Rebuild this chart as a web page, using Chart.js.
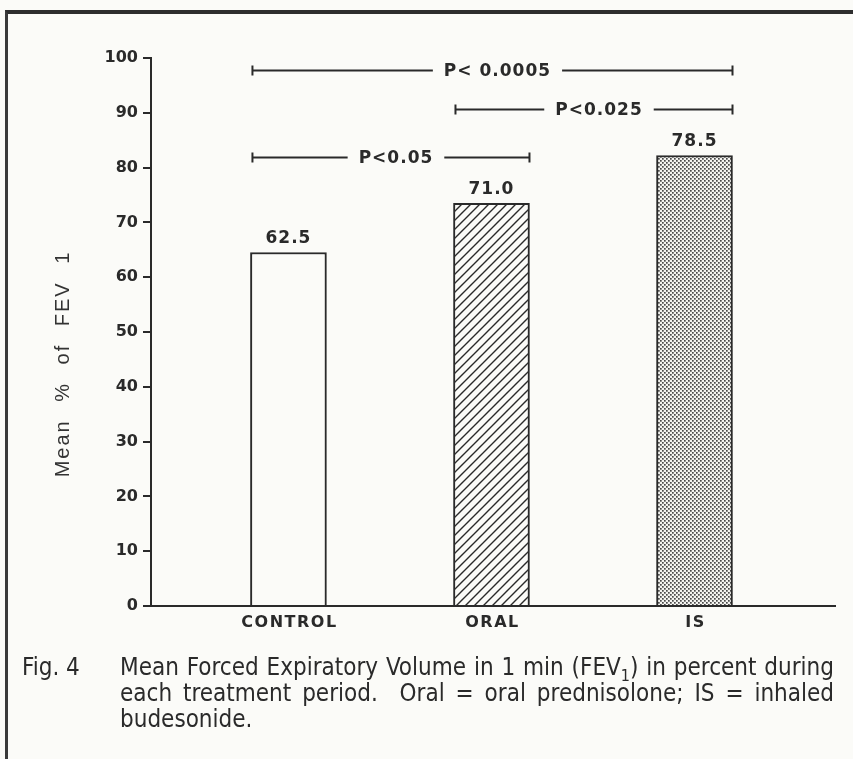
<!DOCTYPE html>
<html lang="en">
<head>
  <meta charset="UTF-8">
  <title>Mean FEV1 per treatment period</title>
  <script src="https://cdn.jsdelivr.net/npm/chart.js"></script>
  <style>
    html, body { margin: 0; padding: 0; }
    body {
      width: 853px; height: 759px; overflow: hidden;
      background: #fbfbf8; position: relative;
      color: #2a2a2a;
    }
    .frame {
      position: absolute; left: 5px; top: 10px; width: 900px; height: 800px;
      border-top: 4px solid #2e2e2e; border-left: 3px solid #3a3a3a;
    }
    #wrap { position: absolute; left: 0; top: 0; width: 853px; height: 759px; }
    .caption {
      position: absolute; left: 22px; top: 654px; width: 812px;
      font-family: "Liberation Sans Narrow", "DejaVu Sans Condensed", sans-serif;
      font-size: 24px; line-height: 26px; display: flex;
    }
    .caption .fig { width: 98px; flex: none; }
    .caption .body { flex: 1; }
    .caption .j { text-align: justify; text-align-last: justify; }
    .caption sub { font-size: 16px; line-height: 0; }
  </style>
</head>
<body>
  <div class="frame"></div>
  <div id="wrap"><canvas id="fev"></canvas></div>
  <div class="caption">
    <div class="fig">Fig. 4</div>
    <div class="body">
      <div class="j">Mean Forced Expiratory Volume in 1 min (FEV<sub>1</sub>) in percent during</div>
      <div class="j">each treatment period.&nbsp; Oral = oral prednisolone; IS = inhaled</div>
      <div>budesonide.</div>
    </div>
  </div>

  <script>
    // values
    const categories = ['CONTROL', 'ORAL', 'IS'];
    const barHeights = [64.5, 73.5, 82.2];
    const valueLabels = ['62.5', '71.0', '78.5'];
    const yTicks = [0, 10, 20, 30, 40, 50, 60, 70, 80, 90, 100];

    // significance brackets: from bar, to bar, height on y axis, label
    const bracketFrom = [0, 1, 0];
    const bracketTo = [2, 2, 1];
    const bracketLevel = [97.8, 90.7, 82.0];
    const bracketText = ['P< 0.0005', 'P<0.025', 'P<0.05'];

    const ink = '#2a2a2a';

    function hatchPattern() {
      const s = 9;
      const c = document.createElement('canvas');
      c.width = s; c.height = s;
      const g = c.getContext('2d');
      g.fillStyle = '#fbfbf8';
      g.fillRect(0, 0, s, s);
      g.strokeStyle = ink;
      g.lineWidth = 1.4;
      g.beginPath();
      g.moveTo(0, s); g.lineTo(s, 0);
      g.moveTo(-2, 2); g.lineTo(2, -2);
      g.moveTo(s - 2, s + 2); g.lineTo(s + 2, s - 2);
      g.stroke();
      return g.createPattern(c, 'repeat');
    }

    function dotPattern() {
      const s = 4;
      const c = document.createElement('canvas');
      c.width = s; c.height = s;
      const g = c.getContext('2d');
      g.fillStyle = '#f4f4f0';
      g.fillRect(0, 0, s, s);
      g.fillStyle = '#4a4a4a';
      g.fillRect(0, 0, 1.7, 1.7);
      g.fillRect(2, 2, 1.7, 1.7);
      return g.createPattern(c, 'repeat');
    }

    const annotate = {
      id: 'annotate',
      afterDatasetsDraw(chart) {
        const ctx = chart.ctx;
        const bars = chart.getDatasetMeta(0).data;
        const y = chart.scales.y;
        const x = chart.scales.x;
        ctx.save();
        ctx.fillStyle = ink;
        ctx.strokeStyle = ink;

        // value labels above bars
        ctx.font = 'bold 17px "DejaVu Sans"';
        ctx.letterSpacing = '1px';
        ctx.textAlign = 'center';
        ctx.textBaseline = 'bottom';
        bars.forEach((b, i) => ctx.fillText(valueLabels[i], b.x, b.y - 5));

        // brackets
        ctx.lineWidth = 2;
        ctx.textBaseline = 'middle';
        bracketText.forEach((t, k) => {
          const a = bars[bracketFrom[k]], b = bars[bracketTo[k]];
          const x1 = a.x - a.width / 2 + 2;
          const x2 = b.x + b.width / 2;
          const yy = Math.round(y.getPixelForValue(bracketLevel[k])) + 0.5;
          const xc = (x1 + x2) / 2 + 5;
          const tw = ctx.measureText(t).width;
          ctx.beginPath();
          ctx.moveTo(x1, yy); ctx.lineTo(xc - tw / 2 - 11, yy);
          ctx.moveTo(xc + tw / 2 + 11, yy); ctx.lineTo(x2, yy);
          ctx.moveTo(x1, yy - 5); ctx.lineTo(x1, yy + 5);
          ctx.moveTo(x2, yy - 5); ctx.lineTo(x2, yy + 5);
          ctx.stroke();
          ctx.fillText(t, xc, yy + 1);
        });

        // category labels under the axis
        ctx.font = 'bold 16px "DejaVu Sans"';
        ctx.letterSpacing = '1.5px';
        ctx.textBaseline = 'middle';
        categories.forEach((c, i) => {
          ctx.fillText(c, x.getPixelForValue(i + 1) + 1, chart.chartArea.bottom + 17);
        });

        // rotated y axis title
        ctx.font = '20px "Liberation Sans"';
        ctx.fillStyle = '#333';
        ctx.letterSpacing = '2px';
        ctx.wordSpacing = '10px';
        ctx.translate(63, (chart.chartArea.top + chart.chartArea.bottom) / 2 + 32);
        ctx.rotate(-Math.PI / 2);
        ctx.fillText('Mean % of FEV 1', 0, 0);
        ctx.restore();
      }
    };

    new Chart(document.getElementById('fev'), {
      type: 'bar',
      data: {
        datasets: [{
          data: categories.map((c, i) => ({ x: i + 1, y: barHeights[i] })),
          backgroundColor: ['#fbfbf8', hatchPattern(), dotPattern()],
          borderColor: ink,
          borderWidth: 2,
          barThickness: 76
        }]
      },
      options: {
        responsive: true,
        maintainAspectRatio: false,
        animation: false,
        layout: { padding: { left: 0, top: 58, right: 18, bottom: 153 } },
        plugins: { legend: { display: false }, tooltip: { enabled: false } },
        scales: {
          x: {
            type: 'linear',
            offset: false,
            min: 0.323,
            max: 3.692,
            ticks: { display: false },
            grid: { display: false },
            border: { display: true, color: ink, width: 2 },
            afterFit: s => { s.height = 0; }
          },
          y: {
            min: 0,
            max: 100,
            afterBuildTicks: s => { s.ticks = yTicks.map(v => ({ value: v })); },
            ticks: {
              color: ink,
              padding: 5,
              font: { family: 'DejaVu Sans', weight: 'bold', size: 16 }
            },
            grid: { drawOnChartArea: false, tickLength: 8, color: ink, lineWidth: 2 },
            border: { display: true, color: ink, width: 2 },
            afterFit: s => { s.width = 151; }
          }
        }
      },
      plugins: [annotate]
    });
  </script>
</body>
</html>
